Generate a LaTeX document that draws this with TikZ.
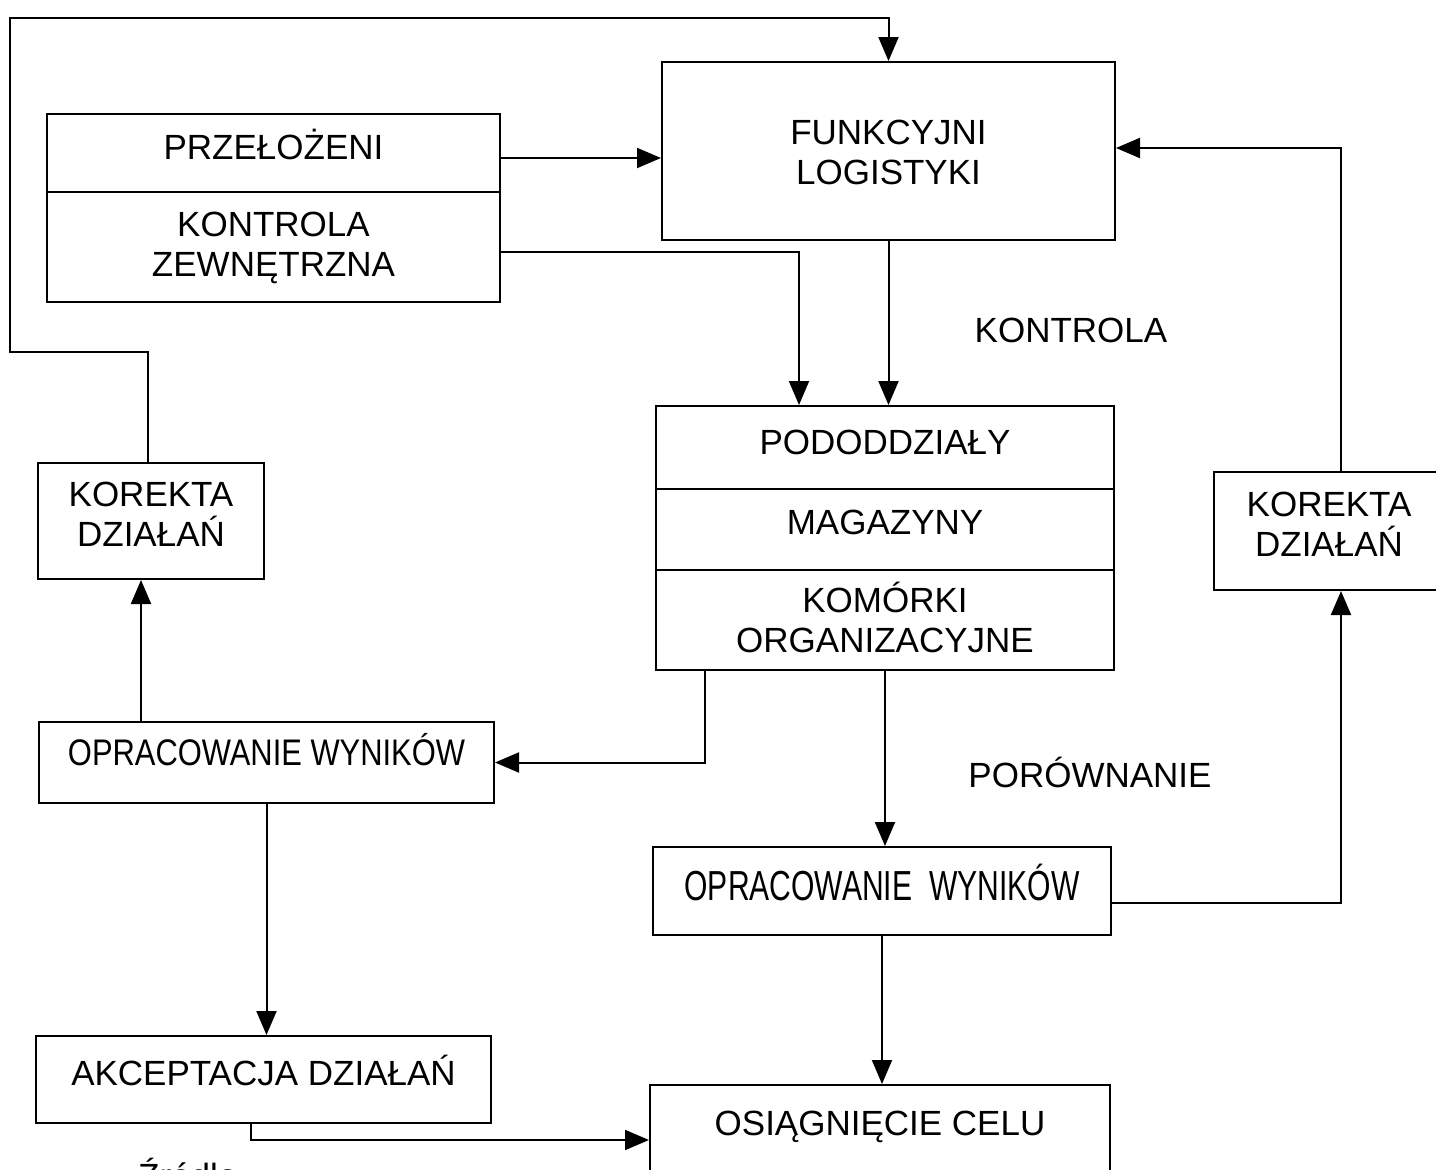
\documentclass[tikz,border=0pt]{standalone}
\usepackage{fontspec}
\usepackage{graphicx}
\setmainfont{Liberation Sans}
\usetikzlibrary{arrows.meta,calc}
% lower strut: extends the last line downwards by #1 (lifts the text in its box)
\newcommand{\lowstrut}[1]{\rule[-#1pt]{0pt}{#1pt}}
% upper strut: fixes the height of a first line
\newcommand{\topstrut}{\rule{0pt}{33pt}}
\begin{document}
\begin{tikzpicture}[x=1pt,y=-1pt,
  box/.style={draw,line width=2pt,rectangle,inner sep=0pt,align=center,
    font=\fontsize{35}{40}\selectfont},
  one/.style={text height=27pt,text depth=#1pt},
  conn/.style={line width=2pt,-{Triangle[length=24pt,width=20pt]}},
  tag/.style={inner sep=0pt,text height=25pt,text depth=0pt,
    font=\fontsize{35}{40}\selectfont}]
\fill[white] (0,0) rectangle (1436,1170);
\clip (0,0) rectangle (1436,1170);

% upper left block
\node[box,one=14,minimum width=453pt,minimum height=78pt] (przel) at (273.5,153) {PRZEŁOŻENI};
\node[box,minimum width=453pt,minimum height=110pt] (kontz) at (273.5,247)
  {\topstrut KONTROLA\\ZEWNĘTRZNA\lowstrut{14}};

% logistics officers
\node[box,minimum width=453pt,minimum height=178pt] (funk) at (888.5,151)
  {\topstrut FUNKCYJNI\\LOGISTYKI\lowstrut{6}};

% central block
\node[box,one=13,minimum width=458pt,minimum height=83pt] (pod) at (885,447.5) {PODODDZIAŁY};
\node[box,one=17,minimum width=458pt,minimum height=81pt] (mag) at (885,529.5) {MAGAZYNY};
\node[box,minimum width=458pt,minimum height=100pt] (kom) at (885,620)
  {\topstrut KOMÓRKI\\ORGANIZACYJNE\lowstrut{8}};

% corrections
\node[box,minimum width=226pt,minimum height=116pt] (korL) at (151,521)
  {\topstrut KOREKTA\\DZIAŁAŃ\lowstrut{22}};
\node[box,minimum width=230pt,minimum height=118pt] (korR) at (1329,531)
  {\topstrut KOREKTA\\DZIAŁAŃ\lowstrut{22}};

% results
\node[box,text height=28pt,text depth=22.5pt,minimum width=455pt,minimum height=81pt] (oprL) at (266.5,762.5)
  {\scalebox{0.835}[1]{\fontsize{37}{40}\selectfont OPRACOWANIE WYNIKÓW}};
\node[box,text height=31pt,text depth=13pt,minimum width=458pt,minimum height=88pt] (oprR) at (882,891)
  {\scalebox{0.716}[1]{\fontsize{42}{46}\selectfont OPRACOWANIE\hspace{0.556em}WYNIKÓW}};

% bottom row
\node[box,one=15,minimum width=455pt,minimum height=87pt] (akc) at (263.5,1079.5) {AKCEPTACJA DZIAŁAŃ};
\node[box,one=36,minimum width=460pt,minimum height=110pt] (osi) at (880,1140) {OSIĄGNIĘCIE CELU};

% side labels
\node[tag] (lkontr) at (1071,330) {KONTROLA};
\node[tag] (lporow) at (1090,775) {PORÓWNANIE};
\node[inner sep=0pt,anchor=base west,font=\fontsize{35}{40}\selectfont] (zrodlo) at (138,1188) {Źródło};

% connectors
\coordinate (loopA) at (10,352);
\coordinate (loopB) at (10,18);
\coordinate (kLt) at ($(korL.north)+(-3,0)$);
\draw[conn] (kLt) |- (loopA) -- (loopB) -| (funk.north);
\coordinate (przA) at ($(przel.east)+(0,5)$);
\draw[conn] (przA) -- (przA -| funk.west);
\coordinate (kontA) at ($(kontz.east)+(0,5)$);
\coordinate (podA) at ($(pod.north west)+(144,0)$);
\draw[conn] (kontA) -| (podA);
\draw[conn] (funk.south) -- (funk.south |- pod.north);
\coordinate (kRt) at ($(korR.north)+(12,0)$);
\coordinate (funkE) at ($(funk.east)+(0,-3)$);
\draw[conn] (kRt) |- (funkE);
\coordinate (komA) at ($(kom.south west)+(50,0)$);
\draw[conn] (komA) |- (oprL.east);
\draw[conn] (kom.south) -- (kom.south |- oprR.north);
\coordinate (oprRo) at ($(oprR.east)+(0,12)$);
\coordinate (kRb) at ($(korR.south)+(12,0)$);
\draw[conn] (oprRo) -| (kRb);
\coordinate (kLb) at ($(korL.south)+(-10,0)$);
\draw[conn] (kLb |- oprL.north) -- (kLb);
\draw[conn] (oprL.south) -- (oprL.south |- akc.north);
\coordinate (akcA) at ($(akc.south)+(-13,0)$);
\draw[conn] (akcA) |- (osi.west);
\draw[conn] (oprR.south) -- (oprR.south |- osi.north);
\end{tikzpicture}
\end{document}
